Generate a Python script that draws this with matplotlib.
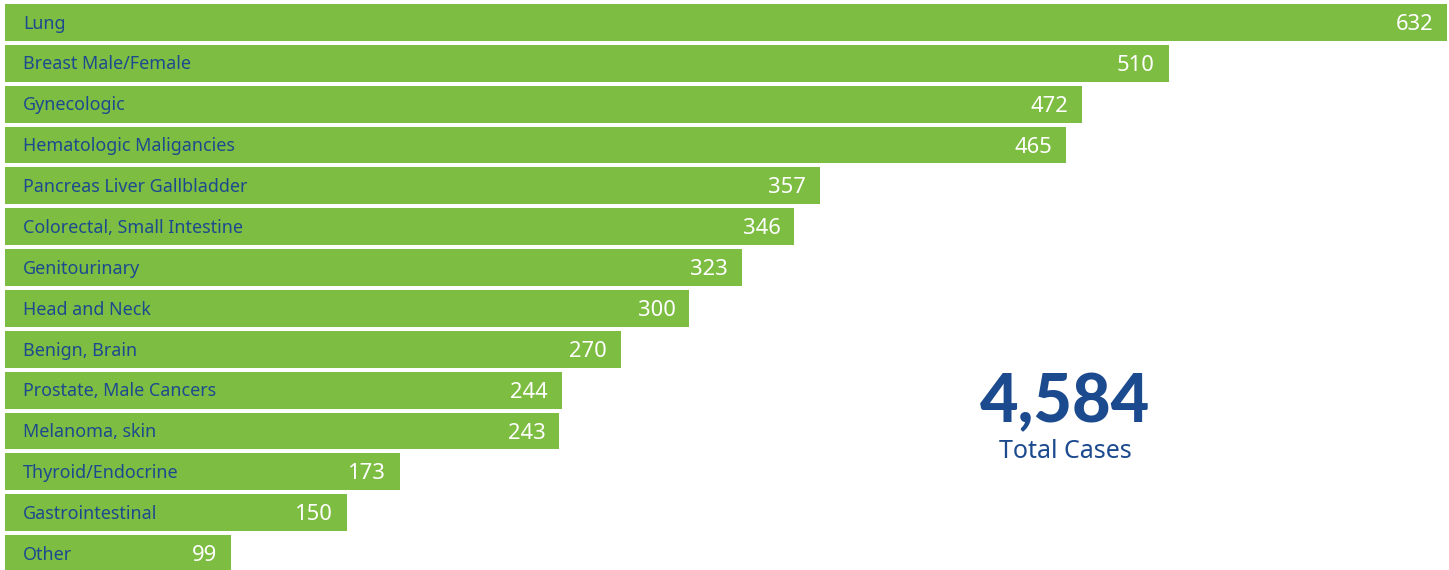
import matplotlib.pyplot as plt

# categories and case counts
categories = ["Lung", "Breast Male/Female", "Gynecologic", "Hematologic Maligancies",
              "Pancreas Liver Gallbladder", "Colorectal, Small Intestine", "Genitourinary",
              "Head and Neck", "Benign, Brain", "Prostate, Male Cancers", "Melanoma, skin",
              "Thyroid/Endocrine", "Gastrointestinal", "Other"]
cases = [632, 510, 472, 465, 357, 346, 323, 300, 270, 244, 243, 173, 150, 99]
total_text = "4,584"

green = "#7dbd42"
blue = "#1c4a8e"

plt.rcParams['font.family'] = ['Noto Sans', 'DejaVu Sans']

fig = plt.figure(figsize=(14.49, 5.70), dpi=100)
ax = fig.add_axes([5 / 1449, -2 / 570, 1442 / 1449, 568 / 570])

y = list(range(len(categories)))
ax.barh(y, cases, height=0.9, color=green)
ax.set_xlim(0, 632)
ax.set_ylim(13.45, -0.45)
ax.axis("off")

for i, (c, v) in enumerate(zip(categories, cases)):
    ax.text(8.0, i + 0.03, c, color=blue, fontsize=12.9, va="center", ha="left")
    ax.annotate(str(v), (v, i + 0.05), xytext=(-10, 0), textcoords="offset points",
                color="white", fontsize=15.8, va="center", ha="right")

# total in the empty space
fig.text(1065 / 1449, 1 - 403 / 570, total_text, color=blue, fontsize=48,
         fontweight="black", ha="center", va="center", family=["Lato", "DejaVu Sans"])
fig.text(1065 / 1449, 1 - 451 / 570, "Total Cases", color=blue, fontsize=18,
         ha="center", va="center")

fig.savefig("out.png", dpi=100)
